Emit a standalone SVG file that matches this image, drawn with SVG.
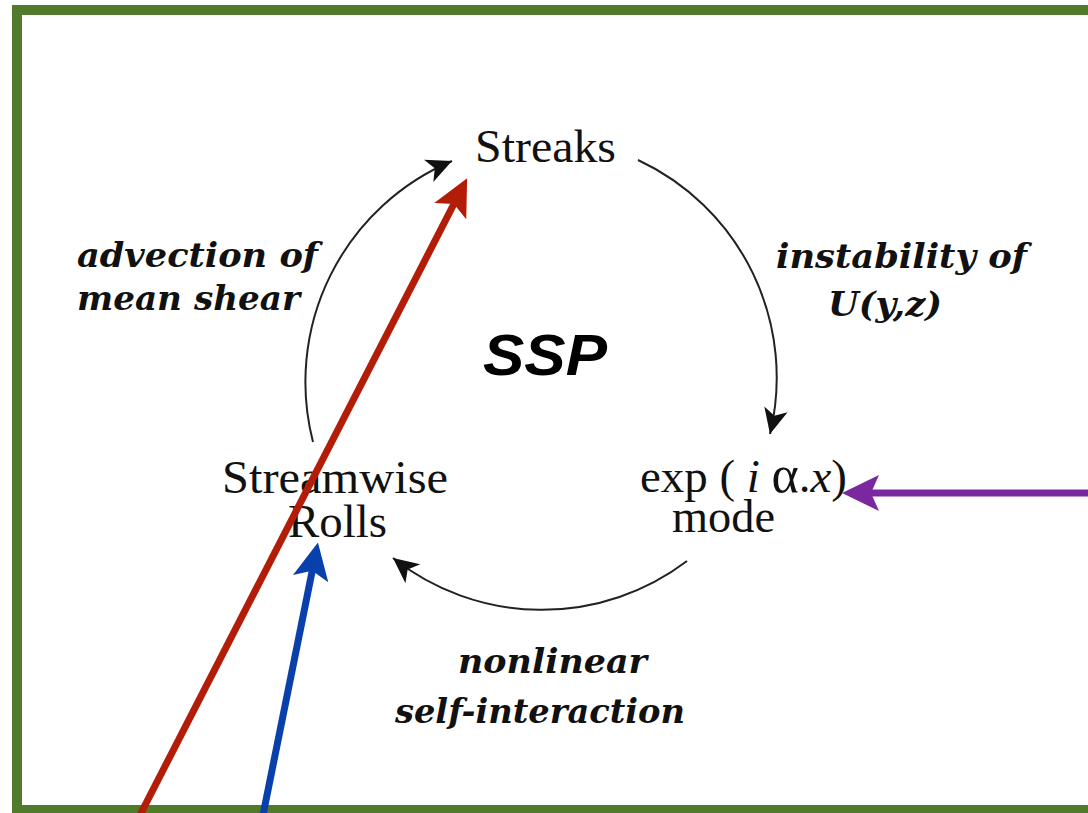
<svg xmlns="http://www.w3.org/2000/svg" width="1088" height="813" viewBox="0 0 1088 813">
<style>
.serif{font-family:"Liberation Serif","Times New Roman",serif;font-size:47px;fill:#111}
.lab{font-family:"DejaVu Serif","Liberation Serif",serif;font-style:italic;font-weight:bold;font-size:33px;fill:#111}
.arc{fill:none;stroke:#222;stroke-width:2}
.ssp{font-family:"Liberation Sans",Arial,sans-serif;font-weight:bold;font-style:italic;font-size:58px;fill:#000}
</style>
<defs>
<marker id="ah" markerUnits="userSpaceOnUse" orient="auto" markerWidth="40" markerHeight="40" refX="0" refY="0" viewBox="-25 -15 30 30" overflow="visible">
<path d="M0,0 L-19,-9 L-14,0 L-19,9 z" fill="#111"/>
</marker>
<marker id="red" markerUnits="userSpaceOnUse" orient="auto" overflow="visible" markerWidth="60" markerHeight="60" viewBox="-30 -30 60 60" refX="0" refY="0">
<path d="M20,0 L-17,-18 L-9,0 L-17,18 z" fill="#b31d08"/>
</marker>
<marker id="blue" markerUnits="userSpaceOnUse" orient="auto" overflow="visible" markerWidth="60" markerHeight="60" viewBox="-30 -30 60 60" refX="0" refY="0">
<path d="M20,0 L-17,-18 L-9,0 L-17,18 z" fill="#0a40ab"/>
</marker>
<marker id="purple" markerUnits="userSpaceOnUse" orient="auto" overflow="visible" markerWidth="60" markerHeight="60" viewBox="-30 -30 60 60" refX="0" refY="0">
<path d="M20,0 L-17,-18 L-9,0 L-17,18 z" fill="#7a28a0"/>
</marker>
</defs>
<rect x="0" y="0" width="1088" height="813" fill="#fff"/>
<rect id="frame" x="17" y="10" width="1100" height="800" fill="none" stroke="#517a2a" stroke-width="10"/>

<g id="connectors">
<path class="arc" d="M313,442 A240,240 0 0,1 452,161" marker-end="url(#ah)"/>
<path class="arc" d="M638,160 A240,240 0 0,1 770,434" marker-end="url(#ah)"/>
<path class="arc" d="M687,561 A240,240 0 0,1 393,558" marker-end="url(#ah)"/>
</g>

<g id="label-advection">
<text class="lab" x="77" y="267" textLength="241" lengthAdjust="spacingAndGlyphs">advection of</text>
<text class="lab" x="77" y="310" textLength="223" lengthAdjust="spacingAndGlyphs">mean shear</text>
</g>
<g id="label-instability">
<text class="lab" x="776" y="268" textLength="251" lengthAdjust="spacingAndGlyphs">instability of</text>
<text class="lab" x="828" y="316" textLength="114" lengthAdjust="spacingAndGlyphs">U(y,z)</text>
</g>
<g id="label-nonlinear">
<text class="lab" x="458" y="673" textLength="189" lengthAdjust="spacingAndGlyphs">nonlinear</text>
<text class="lab" x="395" y="723" textLength="290" lengthAdjust="spacingAndGlyphs">self-interaction</text>
</g>

<g id="ssp">
<text class="ssp" x="483" y="375" textLength="124" lengthAdjust="spacingAndGlyphs">SSP</text>
</g>

<g id="node-streaks">
<text class="serif" x="475" y="162" textLength="141" lengthAdjust="spacingAndGlyphs">Streaks</text>
</g>
<g id="node-rolls">
<text class="serif" x="222" y="493" textLength="226" lengthAdjust="spacingAndGlyphs">Streamwise</text>
<text class="serif" x="288" y="537" textLength="99" lengthAdjust="spacingAndGlyphs">Rolls</text>
</g>
<g id="node-mode">
<text class="serif" x="640" y="492" textLength="207" lengthAdjust="spacingAndGlyphs">exp (<tspan font-style="italic"> i </tspan><tspan font-size="52">α</tspan>.<tspan font-style="italic">x</tspan>)</text>
<text class="serif" x="672" y="532" textLength="103" lengthAdjust="spacingAndGlyphs">mode</text>
</g>

<g id="pointers">
<line x1="140" y1="815" x2="458" y2="196" stroke="#b31d08" stroke-width="7" marker-end="url(#red)"/>
<line x1="263" y1="815" x2="314" y2="562" stroke="#0a40ab" stroke-width="7" marker-end="url(#blue)"/>
<line x1="1090" y1="493" x2="862" y2="493" stroke="#7a28a0" stroke-width="7" marker-end="url(#purple)"/>
</g>
</svg>
